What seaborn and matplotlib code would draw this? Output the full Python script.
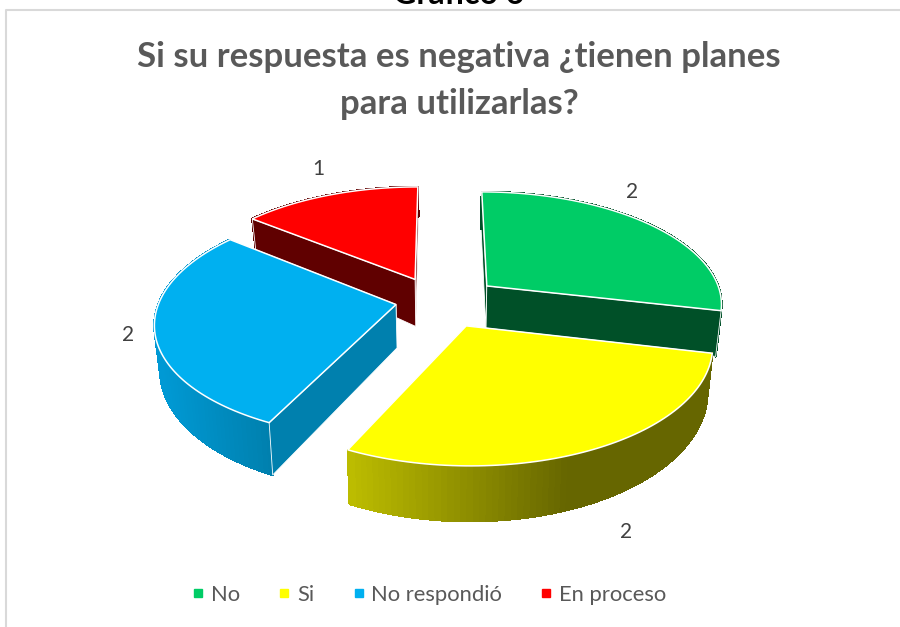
import matplotlib
matplotlib.use('Agg')
import matplotlib.pyplot as plt
import numpy as np
import seaborn as sns
from matplotlib.collections import PolyCollection
from matplotlib.colors import to_rgb
from matplotlib.lines import Line2D

categories = ['No', 'Si', 'No respondió', 'En proceso']
values = [2, 2, 2, 1]
top_colors = ['#00CC66', '#FFFF00', '#00B0F0', '#FF0000']
cut_colors = ['#005028', '#666600', '#0080AE', '#600000']
wall_bright = ['#005028', '#BDBD00', '#0099D4', '#600000']
wall_dark = ['#005028', '#666600', '#0080AE', '#600000']
wall_span = [(480, 720), (350, 570), (160, 270), (250, 420)]
label_pos = [(632, 192), (626, 532), (128, 335), (318, 169)]

# pie geometry, in pixels of the figure
CX, CY = 447, 302
RX, RY = 236, 112
PERSP = 0.147
EXPLODE = 0.22
SHRINK = 0.98
# per slice: pixel nudge, side height and how fast it shrinks towards the back
NUDGE = [(0, -1), (-4, 1), (0, -3), (-10, -1)]
DEPTH = [45, 43, 43, 52]
DEPTH_POW = [1.3, 1.3, 1.3, 3.5]


def project(u, v, i, lower=False):
    s = 1 / (1 + PERSP * v)
    x = CX + NUDGE[i][0] + RX * u * s
    y = CY + NUDGE[i][1] - RY * v * s
    if lower:
        x = CX + (x - CX) * SHRINK
        y = y + DEPTH[i] * s ** DEPTH_POW[i]
    return np.column_stack([x, y])


def draw_slice(ax, start, stop, i, rank):
    mid = (start + stop) / 2
    du, dv = EXPLODE * np.cos(mid), EXPLODE * np.sin(mid)
    t = np.linspace(start, stop, 80)
    u, v = du + np.cos(t), dv + np.sin(t)
    top = project(u, v, i)
    low = project(u, v, i, lower=True)
    apex = project(np.array([du]), np.array([dv]), i)
    apex_low = project(np.array([du]), np.array([dv]), i, lower=True)
    z = rank * 4

    # cut faces: those turned to the viewer go over the wall, the others under it
    facing = {0: np.cos(start) < -1e-9, -1: np.cos(stop) > 1e-9}
    for k in (0, -1):
        face = np.vstack([apex, top[k], low[k], apex_low])
        ax.fill(face[:, 0], face[:, 1], fc=cut_colors[i], ec='white', lw=0.6,
                zorder=z + 2 if facing[k] else z)

    # outer wall, coloured segment by segment for the gradient
    quads = [np.vstack([top[j], top[j + 1], low[j + 1], low[j]]) for j in range(len(t) - 1)]
    a, b = wall_span[i]
    f = np.clip((top[:-1, 0] - a) / (b - a), 0, 1)[:, None]
    cols = (1 - f) * np.array(to_rgb(wall_bright[i])) + f * np.array(to_rgb(wall_dark[i]))
    ax.add_collection(PolyCollection(quads, facecolors=cols, edgecolors=cols, lw=1, antialiaseds=False,
                                     zorder=z + 1))

    face = np.vstack([apex, top, apex])
    ax.fill(face[:, 0], face[:, 1], fc=top_colors[i], ec='white', lw=1.1, zorder=z + 3)


sns.set_theme(style='white')
plt.rcParams['font.family'] = ['Lato', 'DejaVu Sans']

fig = plt.figure(figsize=(9, 6.27), dpi=100)
ax = fig.add_axes([0, 0, 1, 1])
ax.set_xlim(0, 900)
ax.set_ylim(627, 0)
ax.axis('off')

# slice angles come from the values, clockwise from 12 o'clock
fractions = np.array(values) / sum(values)
edges = np.pi / 2 - 2 * np.pi * np.concatenate([[0], np.cumsum(fractions)])

# back slices first
for rank, i in enumerate([3, 0, 2, 1]):
    draw_slice(ax, edges[i], edges[i + 1], i, rank)

for val, (x, y) in zip(values, label_pos):
    ax.text(x, y, str(val), fontsize=15, color='#404040', ha='center', va='center', zorder=30)

# chart frame, only left and top edges show
ax.plot([5.5, 5.5, 900], [627, 9.5, 9.5], color='#D9D9D9', lw=1.5, zorder=0)

ax.text(459, -6, 'Gráfico 6', fontsize=23, fontweight='bold', color='black', ha='center', va='center')
ax.text(459, 57, 'Si su respuesta es negativa ¿tienen planes', fontsize=25, fontweight='bold',
        color='#595959', ha='center', va='center')
ax.text(459, 104, 'para utilizarlas?', fontsize=25, fontweight='bold', color='#595959',
        ha='center', va='center')

palette = sns.color_palette(top_colors)
handles = [Line2D([], [], ls='', marker='s', ms=5.8, color=c, label=n) for c, n in zip(palette, categories)]
ax.legend(handles=handles, ncol=4, loc='center', bbox_to_anchor=(429 / 900, 1 - 595 / 627), frameon=False,
          fontsize=15.8, labelcolor='#595959', handlelength=0.6, handletextpad=0.28, columnspacing=1.72,
          borderpad=0)

fig.savefig('out.png', dpi=100)
